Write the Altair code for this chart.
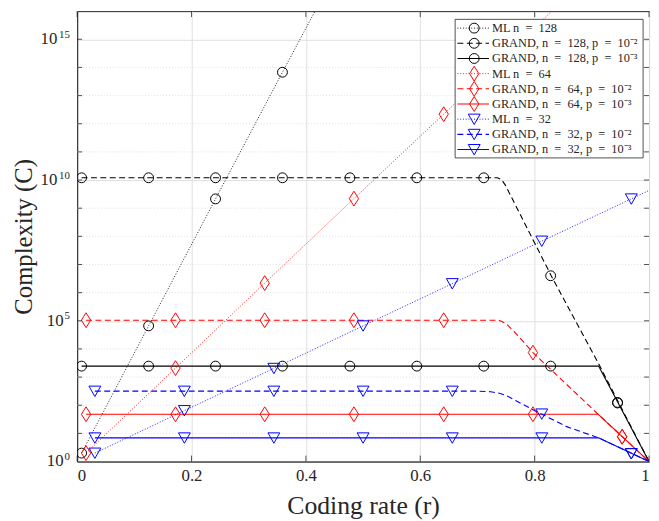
import altair as alt
import pandas as pd

# ---------------- data (values are log10 of complexity C) ----------------
# marker abscissae
r128 = [0.0078, 0.125, 0.242, 0.359, 0.477, 0.594, 0.711, 0.828, 0.945]
r64 = [0.0156, 0.172, 0.328, 0.484, 0.641, 0.797, 0.953]
r32 = [0.031, 0.1875, 0.344, 0.5, 0.656, 0.8125, 0.969]

# ML n=128
ml128_r = [0.0078, 0.125, 0.242, 0.359, 0.416]
ml128_e = [0.30, 4.82, 9.33, 13.83, 16.0]
ml128_mr = [0.0078, 0.125, 0.242, 0.359]
ml128_me = [0.30, 4.82, 9.33, 13.83]
# GRAND n=128, p=1e-2
g128a_r = [0.0078, 0.735, 0.742, 0.749, 0.829, 0.914, 1.0]
g128a_e = [10.08, 10.08, 10.02, 9.81, 6.60, 3.39, 0.0]
g128a_me = [10.08, 10.08, 10.08, 10.08, 10.08, 10.08, 10.08, 6.60, 2.08]
# GRAND n=128, p=1e-3
g128b_r = [0.0078, 0.912, 1.0]
g128b_e = [3.39, 3.39, 0.0]
g128b_me = [3.39, 3.39, 3.39, 3.39, 3.39, 3.39, 3.39, 3.39, 2.10]
# ML n=64
ml64_r = [0.0156, 0.172, 0.328, 0.484, 0.641, 0.797, 0.83]
ml64_e = [0.30, 3.32, 6.34, 9.34, 12.34, 15.36, 16.0]
ml64_mr = [0.0156, 0.172, 0.328, 0.484, 0.641, 0.797]
ml64_me = [0.30, 3.32, 6.34, 9.34, 12.34, 15.36]
# GRAND n=64, p=1e-2
g64a_r = [0.0156, 0.737, 0.75, 0.765, 0.78, 0.797, 0.911, 1.0]
g64a_e = [5.02, 5.02, 4.90, 4.60, 4.26, 3.87, 1.68, 0.0]
g64a_me = [5.02, 5.02, 5.02, 5.02, 5.02, 3.87, 0.88]
# GRAND n=64, p=1e-3
g64b_r = [0.0156, 0.911, 1.0]
g64b_e = [1.68, 1.68, 0.0]
g64b_me = [1.68, 1.68, 1.68, 1.68, 1.68, 1.68, 0.88]
# ML n=32
ml32_r = [0.031, 0.1875, 0.344, 0.5, 0.656, 0.8125, 0.969, 1.0]
ml32_e = [0.30, 1.81, 3.31, 4.82, 6.32, 7.83, 9.33, 9.63]
ml32_me = [0.30, 1.81, 3.31, 4.82, 6.32, 7.83, 9.33]
# GRAND n=32, p=1e-2
g32a_r = [0.031, 0.70, 0.723, 0.74, 0.752, 0.769, 0.798, 0.856, 0.912, 1.0]
g32a_e = [2.50, 2.50, 2.48, 2.42, 2.33, 2.14, 1.83, 1.24, 0.84, 0.0]
g32a_me = [2.50, 2.50, 2.50, 2.50, 2.50, 1.69, 0.28]
# GRAND n=32, p=1e-3
g32b_r = [0.031, 0.912, 1.0]
g32b_e = [0.84, 0.84, 0.0]
g32b_me = [0.84, 0.84, 0.84, 0.84, 0.84, 0.84, 0.28]

E = "\u2002"  # en space (math spacing around "=")
labels = [
    f"ML n{E}={E}128", f"GRAND, n{E}={E}128, p{E}={E}10⁻²", f"GRAND, n{E}={E}128, p{E}={E}10⁻³",
    f"ML n{E}={E}64", f"GRAND, n{E}={E}64, p{E}={E}10⁻²", f"GRAND, n{E}={E}64, p{E}={E}10⁻³",
    f"ML n{E}={E}32", f"GRAND, n{E}={E}32, p{E}={E}10⁻²", f"GRAND, n{E}={E}32, p{E}={E}10⁻³",
]

# y tick labels (10^k), split by exponent length
ytick_1 = [1, 1e5]
ytick_1_exp = ["0", "5"]
ytick_2 = [1e10, 1e15]
ytick_2_exp = ["10", "15"]
xticks = [0, 0.2, 0.4, 0.6, 0.8, 1.0]

# ---------------- styles ----------------
BLACK, RED, BLUE = "#000000", "#ff0000", "#0000ff"
CIRCLE = "circle"
DIAMOND = "M0,-1L0.63,0L0,1L-0.63,0Z"
TRI = "M-1,-0.85L1,-0.85L0,0.9Z"
styles = [
    (BLACK, "dot", CIRCLE, 100), (BLACK, "dash", CIRCLE, 100), (BLACK, "solid", CIRCLE, 100),
    (RED, "dot", DIAMOND, 225), (RED, "dash", DIAMOND, 225), (RED, "solid", DIAMOND, 225),
    (BLUE, "dot", TRI, 144), (BLUE, "dash", TRI, 144), (BLUE, "solid", TRI, 144),
]
SW = {"dot": 0.9, "dash": 1.1, "solid": 1.1}

series_lines = [
    (ml128_r, ml128_e), (g128a_r, g128a_e), (g128b_r, g128b_e),
    (ml64_r, ml64_e), (g64a_r, g64a_e), (g64b_r, g64b_e),
    (ml32_r, ml32_e), (g32a_r, g32a_e), (g32b_r, g32b_e),
]
series_marks = [
    (ml128_mr, ml128_me), (r128, g128a_me), (r128, g128b_me),
    (ml64_mr, ml64_me), (r64, g64a_me), (r64, g64b_me),
    (r32, ml32_me), (r32, g32a_me), (r32, g32b_me),
]

line_rows, mark_rows = [], []
for s, ((lr, le), (mr, me)) in enumerate(zip(series_lines, series_marks)):
    col, dash, shp, sz = styles[s]
    for i, (r, e) in enumerate(zip(lr, le)):
        line_rows.append(dict(sid=s, i=i, r=r, C=10 ** e, color=col, dash=dash, sw=SW[dash]))
    for r, e in zip(mr, me):
        mark_rows.append(dict(sid=s, r=r, C=10 ** e, color=col, shape=shp, size=sz))
lines_df = pd.DataFrame(line_rows)
marks_df = pd.DataFrame(mark_rows)

W, H = 579, 456
FONT = "Liberation Serif"
AX = "#262626"
GRID = "#e0e0e0"

yscale = alt.Scale(type="log", domain=[1, 1e16], nice=False)
xscale = alt.Scale(domain=[0, 1], nice=False)
dash_scale = alt.Scale(domain=["dot", "dash", "solid"], range=[[1, 1.8], [6, 3.5], [1, 0]])

xaxis = alt.Axis(values=xticks, format="~g", grid=True, gridColor=GRID,
                 ticks=False, labelPadding=6, labelFontSize=17, labelColor=AX, domainColor=AX,
                 title="Coding rate (r)", titleFontSize=26, titleFontWeight="normal",
                 titleColor=AX, titlePadding=10)
yaxis = alt.Axis(values=[1, 1e5, 1e10, 1e15], grid=True, gridColor=GRID, ticks=False,
                 labels=False, domainColor=AX,
                 title="Complexity (C)", titleFontSize=25, titleFontWeight="normal",
                 titleColor=AX, titlePadding=41)

decades = pd.DataFrame({"C": [10.0 ** k for k in range(1, 16)]})
minor = pd.DataFrame({"C": [10.0 ** k for k in range(1, 16) if k % 5 != 0]})
xt = pd.DataFrame({"r": xticks})

minor_grid = alt.Chart(minor).mark_rule(color=GRID, strokeDash=[1, 2], strokeWidth=1).encode(
    x=alt.value(0), x2=alt.value(W), y=alt.Y("C:Q", scale=yscale, axis=yaxis))

lines = alt.Chart(lines_df).mark_line(clip=True).encode(
    x=alt.X("r:Q", scale=xscale, axis=xaxis),
    y=alt.Y("C:Q", scale=yscale),
    detail="sid:N",
    order="i:Q",
    color=alt.Color("color:N", scale=None),
    strokeDash=alt.StrokeDash("dash:N", scale=dash_scale, legend=None),
    strokeWidth=alt.StrokeWidth("sw:Q", scale=None),
)
points = alt.Chart(marks_df).mark_point(filled=False, clip=True, strokeWidth=1, opacity=1).encode(
    x=alt.X("r:Q", scale=xscale),
    y=alt.Y("C:Q", scale=yscale),
    color=alt.Color("color:N", scale=None),
    shape=alt.Shape("shape:N", scale=None),
    size=alt.Size("size:Q", scale=None),
)
ytick_l = alt.Chart(decades).mark_rule(color=AX, strokeWidth=0.8).encode(
    x=alt.value(0), x2=alt.value(5), y=alt.Y("C:Q", scale=yscale))
ytick_r = alt.Chart(decades).mark_rule(color=AX, strokeWidth=0.8).encode(
    x=alt.value(W - 5), x2=alt.value(W), y=alt.Y("C:Q", scale=yscale))
xtick_b = alt.Chart(xt).mark_rule(color=AX, strokeWidth=0.8).encode(
    x=alt.X("r:Q", scale=xscale), y=alt.value(H), y2=alt.value(H - 6))
xtick_t = alt.Chart(xt).mark_rule(color=AX, strokeWidth=0.8).encode(
    x=alt.X("r:Q", scale=xscale), y=alt.value(0), y2=alt.value(6))


def ylabels(values, exps, base_x):
    df = pd.DataFrame({"C": values, "e": exps})
    base = alt.Chart(df).mark_text(align="right", baseline="alphabetic", dy=5, fontSize=17,
                                   font=FONT, color=AX).encode(
        x=alt.value(base_x), y=alt.Y("C:Q", scale=yscale), text=alt.value("10"))
    sup = alt.Chart(df).mark_text(align="right", baseline="alphabetic", dy=-1.5, fontSize=11,
                                  font=FONT, color=AX).encode(
        x=alt.value(-7.3), y=alt.Y("C:Q", scale=yscale), text="e:N")
    return [base, sup]


main = alt.layer(minor_grid, lines, points, ytick_l, ytick_r, xtick_b, xtick_t,
                 *ylabels(ytick_1, ytick_1_exp, -13.7), *ylabels(ytick_2, ytick_2_exp, -20.0))

# ---------------- legend ----------------
leg_df = pd.DataFrame({
    "idx": list(range(9)),
    "label": labels,
    "color": [s[0] for s in styles],
    "dash": [s[1] for s in styles],
    "shape": [s[2] for s in styles],
    "size": [s[3] for s in styles],
    "sw": [SW[s[1]] for s in styles],
})
leg_y = alt.Y("idx:Q", scale=alt.Scale(domain=[0, 8], range=[17.2, 140.1]), axis=None)
box = alt.Chart(pd.DataFrame({"k": [0]})).mark_rect(fill="white", stroke=AX, strokeWidth=0.8).encode(
    x=alt.value(382.7), x2=alt.value(573), y=alt.value(8.3), y2=alt.value(148.6))
leg_lines = alt.Chart(leg_df).mark_rule().encode(
    x=alt.value(385), x2=alt.value(417), y=leg_y,
    color=alt.Color("color:N", scale=None),
    strokeDash=alt.StrokeDash("dash:N", scale=dash_scale, legend=None),
    strokeWidth=alt.StrokeWidth("sw:Q", scale=None),
)
leg_pts = alt.Chart(leg_df).mark_point(filled=False, strokeWidth=1, opacity=1).encode(
    x=alt.value(402), y=leg_y,
    color=alt.Color("color:N", scale=None),
    shape=alt.Shape("shape:N", scale=None),
    size=alt.Size("size:Q", scale=None),
)
leg_text = alt.Chart(leg_df).mark_text(align="left", baseline="middle", fontSize=12.5,
                                       font=FONT, color=AX).encode(
    x=alt.value(420), y=leg_y, text="label:N")
legend = alt.layer(box, leg_lines, leg_pts, leg_text)

chart = alt.layer(main, legend).resolve_scale(y="independent").properties(
    width=W, height=H, autosize="none",
    padding={"left": 70, "top": 0, "right": 2, "bottom": 56},
).configure(font=FONT).configure_view(stroke=AX, strokeWidth=1)

chart.save("out.html", embed_options={"renderer": "svg", "actions": False})
